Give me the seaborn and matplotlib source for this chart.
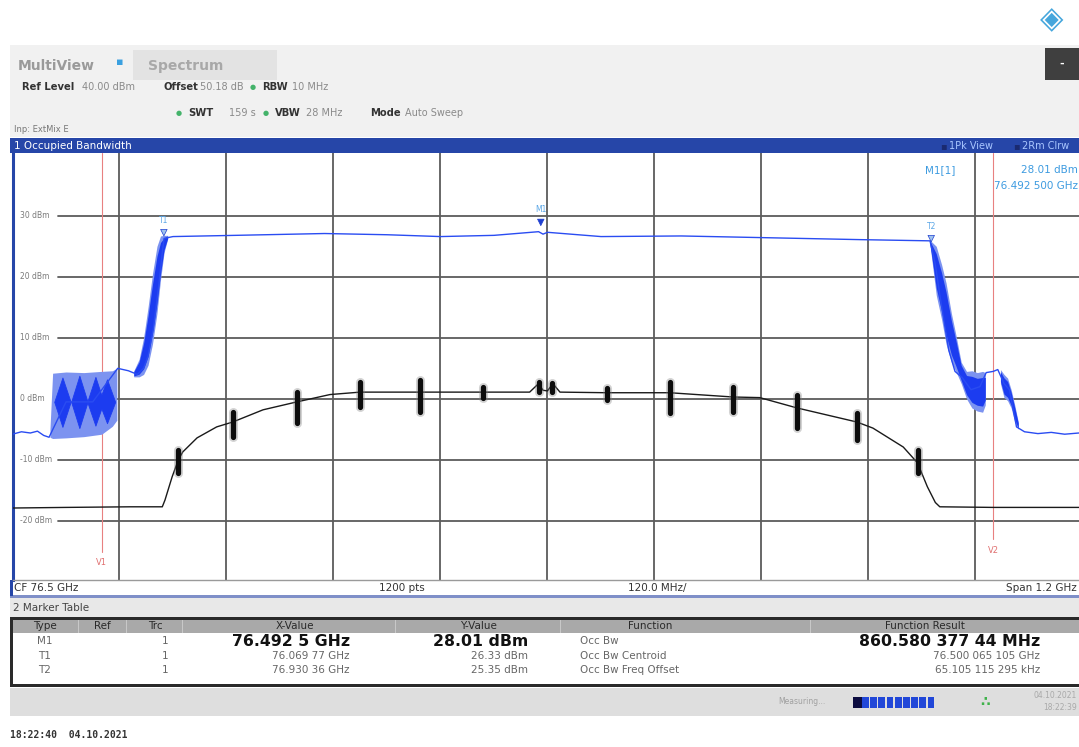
import matplotlib
matplotlib.use("Agg")
import matplotlib.pyplot as plt
import matplotlib.transforms as mtransforms
from matplotlib.patches import Rectangle
import seaborn as sns

sns.set_theme(style="white")
plt.rcParams['font.family'] = ['DejaVu Sans']

# ---------------- data ----------------
# trace 1 (1Pk View, blue): centre line, GHz / dBm
pk_freq = [75.900, 75.910, 75.920, 75.928, 75.935, 75.941, 75.960, 75.990, 76.018, 76.030,
           76.040, 76.047, 76.052, 76.058, 76.064, 76.068, 76.070, 76.080, 76.150, 76.250,
           76.320, 76.380, 76.440, 76.490, 76.495, 76.500, 76.560, 76.650, 76.750, 76.850,
           76.929, 76.935, 76.940, 76.945, 76.950, 76.957, 76.965, 76.975, 76.985, 76.992,
           77.000, 77.005, 77.012, 77.018, 77.022, 77.026, 77.035, 77.050, 77.065, 77.080, 77.096]
pk_level = [-5.8, -5.4, -5.6, -5.3, -6.0, -6.3, -0.5, -0.5, 5.0, 4.6,
            4.0, 5.0, 7.0, 11.5, 18.5, 24.0, 26.3, 26.6, 26.8, 27.1,
            26.9, 26.6, 26.8, 27.4, 27.0, 27.3, 26.6, 26.7, 26.4, 26.1,
            25.9, 22.0, 17.0, 12.5, 8.0, 4.5, 3.5, 1.5, 2.0, 4.3,
            4.5, 4.8, 2.5, 1.5, -1.5, -4.6, -5.4, -5.7, -5.5, -5.8, -5.6]

# noisy envelopes of trace 1 (freq, low, high)
pk_block_freq = [75.942, 75.945, 75.960, 75.980, 76.000, 76.012, 76.017]
pk_block_lo = [-6.3, -6.5, -6.4, -6.2, -5.8, -4.5, -3.5]
pk_block_hi = [-5.0, 4.2, 4.4, 4.3, 4.5, 4.6, 5.0]

pk_lobe_freq = [75.956, 75.975, 75.993, 76.006]
pk_lobe_lo = [-4.6, -4.8, -4.4, -4.0]
pk_lobe_hi = [3.5, 3.8, 3.6, 3.2]

pk_rise_freq = [76.036, 76.042, 76.047, 76.052, 76.057, 76.062, 76.066, 76.070, 76.074]
pk_rise_lo = [3.6, 3.6, 4.0, 5.5, 9.0, 14.0, 19.5, 24.0, 26.2]
pk_rise_hi = [4.6, 6.5, 10.0, 15.0, 20.5, 25.0, 26.7, 26.8, 26.8]

pk_fall_freq = [76.929, 76.936, 76.942, 76.947, 76.953, 76.958, 76.964, 76.970, 76.976,
                76.982, 76.988, 76.991]
pk_fall_lo = [25.2, 17.0, 13.0, 9.0, 6.0, 4.5, 2.5, 0.0, -1.5, -2.0, -2.2, -1.0]
pk_fall_hi = [26.0, 25.0, 22.0, 19.0, 14.0, 10.5, 6.0, 4.5, 4.6, 4.3, 4.5, 4.3]

pk_tail_freq = [77.008, 77.012, 77.016, 77.020, 77.024, 77.028]
pk_tail_lo = [2.5, 0.2, -0.3, -1.5, -3.8, -5.0]
pk_tail_hi = [4.8, 4.0, 3.4, 1.5, -1.0, -3.8]

# trace 2 (2Rm Clrw, black)
rm_freq = [75.900, 75.960, 76.032, 76.068, 76.071, 76.079, 76.086, 76.091, 76.107, 76.129,
           76.147, 76.181, 76.219, 76.256, 76.290, 76.331, 76.357, 76.405, 76.428, 76.480,
           76.490, 76.495, 76.500, 76.506, 76.514, 76.567, 76.637, 76.708, 76.738, 76.780,
           76.847, 76.865, 76.899, 76.915, 76.926, 76.935, 76.940, 77.000, 77.096]
rm_level = [-17.9, -17.8, -17.7, -17.7, -16.6, -12.8, -10.0, -8.7, -6.4, -4.6,
            -3.8, -1.8, -0.5, 0.7, 1.1, 1.1, 1.1, 1.1, 1.1, 1.1,
            2.5, 1.4, 1.3, 2.5, 1.1, 1.0, 1.0, 0.3, 0.2, -1.5,
            -3.8, -4.8, -7.9, -10.5, -14.4, -17.0, -17.7, -17.8, -17.8]
rm_blob_freq = [76.086, 76.147, 76.219, 76.290, 76.357, 76.428, 76.491, 76.505,
                76.567, 76.637, 76.708, 76.780, 76.847, 76.915]
rm_blob_lo = [-12.1, -6.2, -3.9, -1.3, -2.1, 0.1, 1.2, 1.2, -0.2, -2.3, -2.1, -4.8, -6.7, -12.1]
rm_blob_hi = [-8.4, -2.1, 1.1, 2.8, 3.1, 2.0, 2.8, 2.6, 1.8, 2.8, 2.0, 0.7, -2.3, -8.4]

# markers and display lines
marker_names = ['M1', 'T1', 'T2']
marker_freq = [76.4925, 76.06977, 76.93036]
marker_level = [28.01, 26.33, 25.35]
vline_names = ['V1', 'V2']
vline_freq = [76.0, 77.0]

grid_freq = [76.02, 76.14, 76.26, 76.38, 76.50, 76.62, 76.74, 76.86, 76.98]
grid_level = [30, 20, 10, 0, -10, -20]

# marker table
table_head = ['Type', 'Ref', 'Trc', 'X-Value', 'Y-Value', 'Function', 'Function Result']
table_type = ['M1', 'T1', 'T2']
table_trc = ['1', '1', '1']
table_x = ['76.492 5 GHz', '76.069 77 GHz', '76.930 36 GHz']
table_y = ['28.01 dBm', '26.33 dBm', '25.35 dBm']
table_func = ['Occ Bw', 'Occ Bw Centroid', 'Occ Bw Freq Offset']
table_result = ['860.580 377 44 MHz', '76.500 065 105 GHz', '65.105 115 295 kHz']

# ---------------- figure in screen pixels ----------------
W, H = 1079, 747
fig = plt.figure(figsize=(W / 100, H / 100), dpi=100)
fig.patch.set_facecolor('white')


def box(x0, y0, x1, y1, color, **kw):
    fig.add_artist(Rectangle((x0 / W, 1 - y1 / H), (x1 - x0) / W, (y1 - y0) / H,
                             transform=fig.transFigure, facecolor=color,
                             edgecolor=kw.pop('ec', 'none'), lw=kw.pop('lw', 0),
                             zorder=kw.pop('zorder', -1), **kw))


def txt(x, y, s, **kw):
    kw.setdefault('va', 'center')
    kw.setdefault('fontsize', 7.5)
    kw.setdefault('color', '#555555')
    fig.text(x / W, 1 - y / H, s, **kw)


# header
box(10, 45, 1079, 137, '#f1f1f1')
box(133, 50, 277, 80, '#e3e3e3')
box(1045, 48, 1079, 80, '#3f3f3f')
txt(1062, 64, '-', color='white', ha='center', fontsize=8, fontweight='bold')
txt(1052, 20, '\u25c8', color='#45a6dc', ha='center', fontsize=22)
txt(18, 66, 'MultiView', color='#9a9a9a', fontsize=10, fontweight='bold')
txt(116, 62, '\u25aa', color='#3aa0e0', fontsize=8)
txt(148, 66, 'Spectrum', color='#a8a8a8', fontsize=10, fontweight='bold')

txt(22, 87, 'Ref Level', color='#333333', fontweight='bold', fontsize=7.2)
txt(82, 87, '40.00 dBm', color='#8a8a8a', fontsize=7)
txt(163, 87, 'Offset', color='#333333', fontweight='bold', fontsize=7.2)
txt(200, 87, '50.18 dB', color='#8a8a8a', fontsize=7)
txt(250, 87, '\u25cf', color='#44b36a', fontsize=5)
txt(262, 87, 'RBW', color='#333333', fontweight='bold', fontsize=7.2)
txt(292, 87, '10 MHz', color='#8a8a8a', fontsize=7)
txt(176, 113, '\u25cf', color='#44b36a', fontsize=5)
txt(188, 113, 'SWT', color='#333333', fontweight='bold', fontsize=7.2)
txt(256, 113, '159 s', color='#8a8a8a', ha='right', fontsize=7)
txt(263, 113, '\u25cf', color='#44b36a', fontsize=5)
txt(275, 113, 'VBW', color='#333333', fontweight='bold', fontsize=7.2)
txt(306, 113, '28 MHz', color='#8a8a8a', fontsize=7)
txt(370, 113, 'Mode', color='#333333', fontweight='bold', fontsize=7.2)
txt(405, 113, 'Auto Sweep', color='#8a8a8a', fontsize=7)
txt(14, 129, 'Inp: ExtMix E', color='#777777', fontsize=6)

# window title bar
box(10, 138, 1079, 153, '#2646a8')
txt(14, 146, '1 Occupied Bandwidth', color='white', fontsize=7.5)
txt(940, 146, '\u25aa', color='#1a2a70', fontsize=7)
txt(949, 146, '1Pk View', color='#a9c6ff', fontsize=7)
txt(1013, 146, '\u25aa', color='#1a2a70', fontsize=7)
txt(1022, 146, '2Rm Clrw', color='#a9c6ff', fontsize=7)

# ---------------- diagram ----------------
x_lo, x_hi = 75.9, 77.0961
ax = fig.add_axes([12.5 / W, 1 - 580 / H, (W - 12.5) / W, (580 - 153) / H])
ax.set_xlim(x_lo, x_hi)
ax.set_ylim(-29.7, 40.3)
ax.set_xticks([])
ax.set_yticks([])
for side in ['top', 'right']:
    ax.spines[side].set_visible(False)
ax.spines['left'].set_color('#2646a8')
ax.spines['left'].set_linewidth(2.2)
ax.spines['bottom'].set_color('#9a9a9a')
ax.spines['bottom'].set_linewidth(1.0)

label_end = (58 - 12.5) / (W - 12.5)
for g in grid_level:
    ax.axhline(g, xmin=label_end, color='#5c5c5c', lw=1.3, zorder=0.5)
    ax.text((20 - 12.5) / (W - 12.5), g, f'{g} dBm', transform=ax.get_yaxis_transform(),
            fontsize=5.5, color='#7a7a7a', va='center', ha='left')
for g in grid_freq:
    ax.axvline(g, color='#5c5c5c', lw=1.3, zorder=0.5)

# display lines V1 / V2
for name, f, ylab in zip(vline_names, vline_freq, [-26.9, -24.8]):
    ax.plot([f, f], [ylab + 1.8, 40.3], color='#e88080', lw=0.8, zorder=1)
    ax.text(f, ylab, name, color='#e07070', fontsize=6, ha='center', va='center')

# trace 2 (black)
sns.lineplot(x=rm_freq, y=rm_level, ax=ax, color='#1a1a1a', lw=1.0, errorbar=None, zorder=3)
ax.vlines(rm_blob_freq, rm_blob_lo, rm_blob_hi, color='#808080', lw=6.5, alpha=0.35,
          capstyle='round', zorder=3)
ax.vlines(rm_blob_freq, rm_blob_lo, rm_blob_hi, color='#0d0d0d', lw=3.8,
          capstyle='round', zorder=3)

# trace 1 (blue)
light_blue, dark_blue = '#7c93f0', '#1c3cf0'
ax.fill_between(pk_block_freq, pk_block_lo, pk_block_hi, color=light_blue, lw=0, zorder=4)
half = 0.0092
for f, lo, hi in zip(pk_lobe_freq, pk_lobe_lo, pk_lobe_hi):
    ax.fill_between([f - half, f, f + half], [-0.5, lo, -0.5], [-0.5, hi, -0.5],
                    color=dark_blue, lw=0.6, edgecolor=dark_blue, zorder=4)
for fr, lo, hi in [(pk_rise_freq, pk_rise_lo, pk_rise_hi),
                   (pk_fall_freq, pk_fall_lo, pk_fall_hi),
                   (pk_tail_freq, pk_tail_lo, pk_tail_hi)]:
    ax.fill_between(fr, lo, hi, color=light_blue, lw=0, zorder=4)
    mid = [(a + b) / 2 for a, b in zip(lo, hi)]
    ax.fill_between(fr, [m + 0.7 * (a - m) for m, a in zip(mid, lo)],
                    [m + 0.7 * (b - m) for m, b in zip(mid, hi)], color=dark_blue, lw=0, zorder=4)
sns.lineplot(x=pk_freq, y=pk_level, ax=ax, color='#2a4cf2', lw=1.0, errorbar=None, zorder=5)

# markers
lift = mtransforms.ScaledTranslation(0, 4 / 72, fig.dpi_scale_trans)
sns.scatterplot(x=marker_freq, y=marker_level, ax=ax, marker='v', s=22,
                color=['#1f3fd0', '#9ec2ee', '#9ec2ee'], edgecolor='#1f3fd0', lw=0.5,
                zorder=6, transform=ax.transData + lift)
for name, f, lev in zip(marker_names, marker_freq, marker_level):
    ax.annotate(name, (f, lev), xytext=(0, 13), textcoords='offset points',
                fontsize=5.5, color='#5aa6e6', ha='center', va='center')

# marker info top right
txt(925, 170, 'M1[1]', color='#3d9be0', fontsize=7.5)
txt(1078, 170, '28.01 dBm', color='#3d9be0', fontsize=7.5, ha='right')
txt(1078, 186, '76.492 500 GHz', color='#3d9be0', fontsize=7.5, ha='right')

# bottom axis strip
box(10, 580, 1079, 596, 'white')
box(10, 595, 1079, 598, '#7f8fc8')
box(10, 580, 13, 596, '#2646a8')
txt(14, 588, 'CF 76.5 GHz', color='#333333', fontsize=7.5)
txt(402, 588, '1200 pts', color='#333333', fontsize=7.5, ha='center')
txt(657, 588, '120.0 MHz/', color='#333333', fontsize=7.5, ha='center')
txt(1077, 588, 'Span 1.2 GHz', color='#333333', fontsize=7.5, ha='right')

# marker table
box(10, 598, 1079, 618, '#e8e8e8')
txt(13, 608, '2 Marker Table', color='#444444', fontsize=7.5)
box(10, 618, 1079, 687, 'white')
box(12, 619, 1079, 633, '#a9a9a9')
box(10, 617, 1079, 620, '#2a2a2a')
box(10, 684, 1079, 687, '#2a2a2a')
box(10, 617, 13, 687, '#2a2a2a')
for sx in [78, 126, 182, 395, 560, 810]:
    box(sx, 620, sx + 1, 633, '#c8c8c8')
head_x = [45, 102, 155, 295, 478, 650, 925]
for hx, h in zip(head_x, table_head):
    txt(hx, 626, h, color='#2a2a2a', fontsize=7.5, ha='center')
row_y = [641, 656, 670]
for i, yy in enumerate(row_y):
    big = i == 0
    kw_val = dict(fontsize=11.3, color='#111111', fontweight='bold') if big else \
        dict(fontsize=7.5, color='#666666')
    txt(45, yy, table_type[i], color='#666666', fontsize=7.5, ha='center')
    txt(165, yy, table_trc[i], color='#666666', fontsize=7.5, ha='center')
    txt(350, yy, table_x[i], ha='right', **kw_val)
    txt(528, yy, table_y[i], ha='right', **kw_val)
    txt(580, yy, table_func[i], color='#666666', fontsize=7.5)
    txt(1040, yy, table_result[i], ha='right', **kw_val)

# status bar
box(10, 688, 1079, 716, '#dedede')
txt(778, 702, 'Measuring...', color='#a0a0a0', fontsize=5.5)
box(853, 697, 862, 708, '#0c0c40')
for k in range(9):
    box(862 + k * 8.2, 697, 862 + k * 8.2 + 6.8, 708, '#2147d8')
txt(985, 702, '\u2234', color='#3fb24a', fontsize=10, ha='center', fontweight='bold')
txt(1077, 696, '04.10.2021', color='#a9a9a9', fontsize=5.5, ha='right')
txt(1077, 708, '18:22:39', color='#a9a9a9', fontsize=5.5, ha='right')

txt(10, 735, '18:22:40  04.10.2021', color='#333333', fontsize=7,
    fontweight='bold', family=['DejaVu Sans Mono'])

fig.savefig('out.png', dpi=100)
